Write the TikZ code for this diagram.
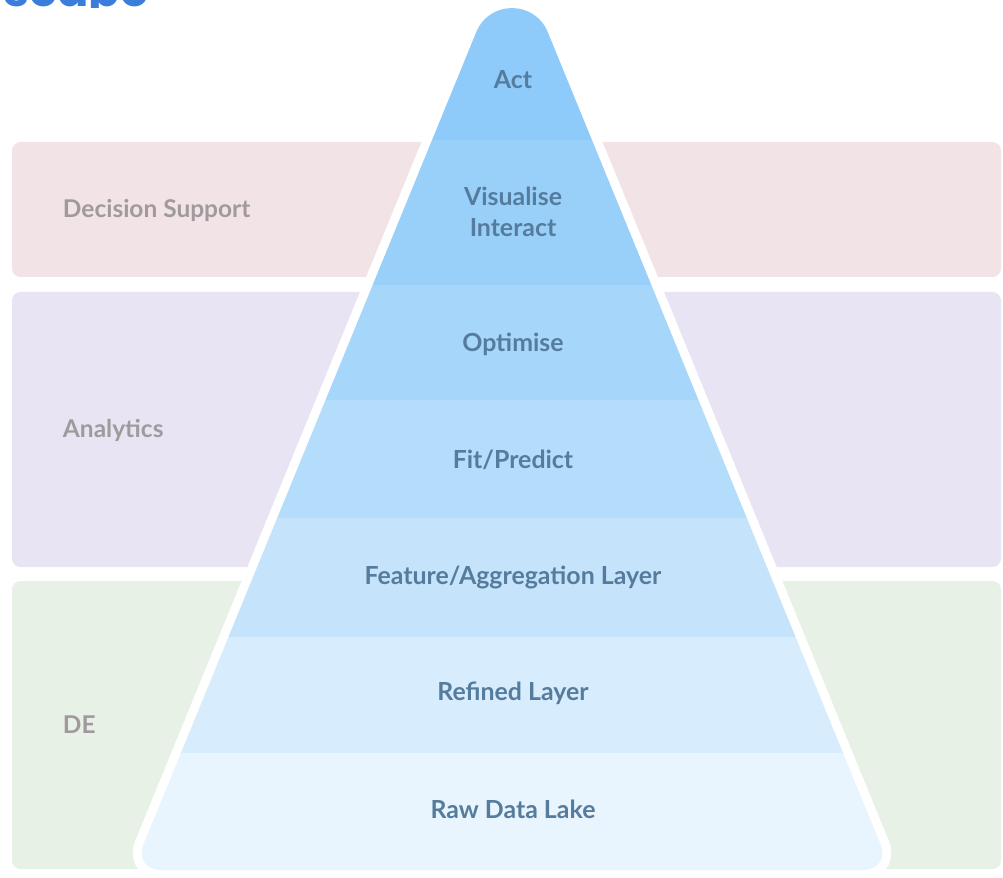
\documentclass[tikz,border=0pt]{standalone}
\usepackage{fontspec}
\setmainfont{Lato}
\newfontfamily\titlefont{Poppins}

\definecolor{bandpink}{HTML}{F2E4E6}
\definecolor{bandlilac}{HTML}{E8E4F4}
\definecolor{bandgreen}{HTML}{E8F1E6}
\definecolor{lay0}{HTML}{8FCBFA}
\definecolor{lay1}{HTML}{99D0FA}
\definecolor{lay2}{HTML}{A7D6FB}
\definecolor{lay3}{HTML}{B4DCFB}
\definecolor{lay4}{HTML}{C5E4FC}
\definecolor{lay5}{HTML}{D7ECFD}
\definecolor{lay6}{HTML}{E8F4FE}
\definecolor{laytext}{HTML}{567C9D}
\definecolor{sidetext}{HTML}{A19A9D}
\definecolor{titleblue}{HTML}{3B7DDD}

\tikzset{
	band/.style={rounded corners=6pt},
	laylabel/.style={font=\bfseries\fontsize{17.7}{22}\selectfont,text=laytext,align=center},
	sidelabel/.style={font=\bfseries\fontsize{17.4}{21}\selectfont,text=sidetext,anchor=west}
}

% outline of the pyramid, in pixel units
\newcommand{\pyrpath}{(512,870) -- (161,870)
	.. controls (145.6,870) and (137.8,858.3) .. (143.6,844.1) -- (476.3,32)
	.. controls (489.4,0.1) and (534.6,0.1) .. (547.7,32) -- (880.4,844.1)
	.. controls (886.2,858.3) and (878.4,870) .. (863,870) -- cycle}

\begin{document}
\begin{tikzpicture}[x=0.025cm,y=-0.025cm]
	\useasboundingbox (0,0) rectangle (1003,878);
	\clip (0,0) rectangle (1003,878);

	% title, cut off at the top
	\begin{scope}
		\clip (0,0) rectangle (170,8);
		\node [anchor=base east,inner sep=0pt,text=titleblue,font=\titlefont\bfseries\fontsize{33}{36}\selectfont] (title) at (149,7) {Landscape};
	\end{scope}

	% bands behind the pyramid
	\fill [band,bandpink] (12,142) rectangle (1001,277);
	\fill [band,bandlilac] (12,292) rectangle (1001,567);
	\fill [band,bandgreen] (12,581) rectangle (1001,869);

	\node [sidelabel] (S0) at (58,210) {Decision Support};
	\node [sidelabel] (S1) at (58,430) {Analytics};
	\node [sidelabel] (S2) at (58,725) {DE};

	% white rim
	\draw [white,line width=0.45cm,line join=round] \pyrpath;

	% layers
	\begin{scope}
		\clip \pyrpath;
		\fill [lay0] (0,0) rectangle (1003,140);
		\fill [lay1] (0,140) rectangle (1003,285);
		\fill [lay2] (0,285) rectangle (1003,400);
		\fill [lay3] (0,400) rectangle (1003,518);
		\fill [lay4] (0,518) rectangle (1003,637);
		\fill [lay5] (0,637) rectangle (1003,753);
		\fill [lay6] (0,753) rectangle (1003,878);
	\end{scope}

	\node [laylabel] (L0) at (513,80) {Act};
	\node [laylabel] (L1) at (513,212) {Visualise\\Interact};
	\node [laylabel] (L2) at (513,344) {Optimise};
	\node [laylabel] (L3) at (513,460) {Fit/Predict};
	\node [laylabel] (L4) at (513,577) {Feature/Aggregation Layer};
	\node [laylabel] (L5) at (513,693) {Refined Layer};
	\node [laylabel] (L6) at (513,809) {Raw Data Lake};
\end{tikzpicture}
\end{document}
